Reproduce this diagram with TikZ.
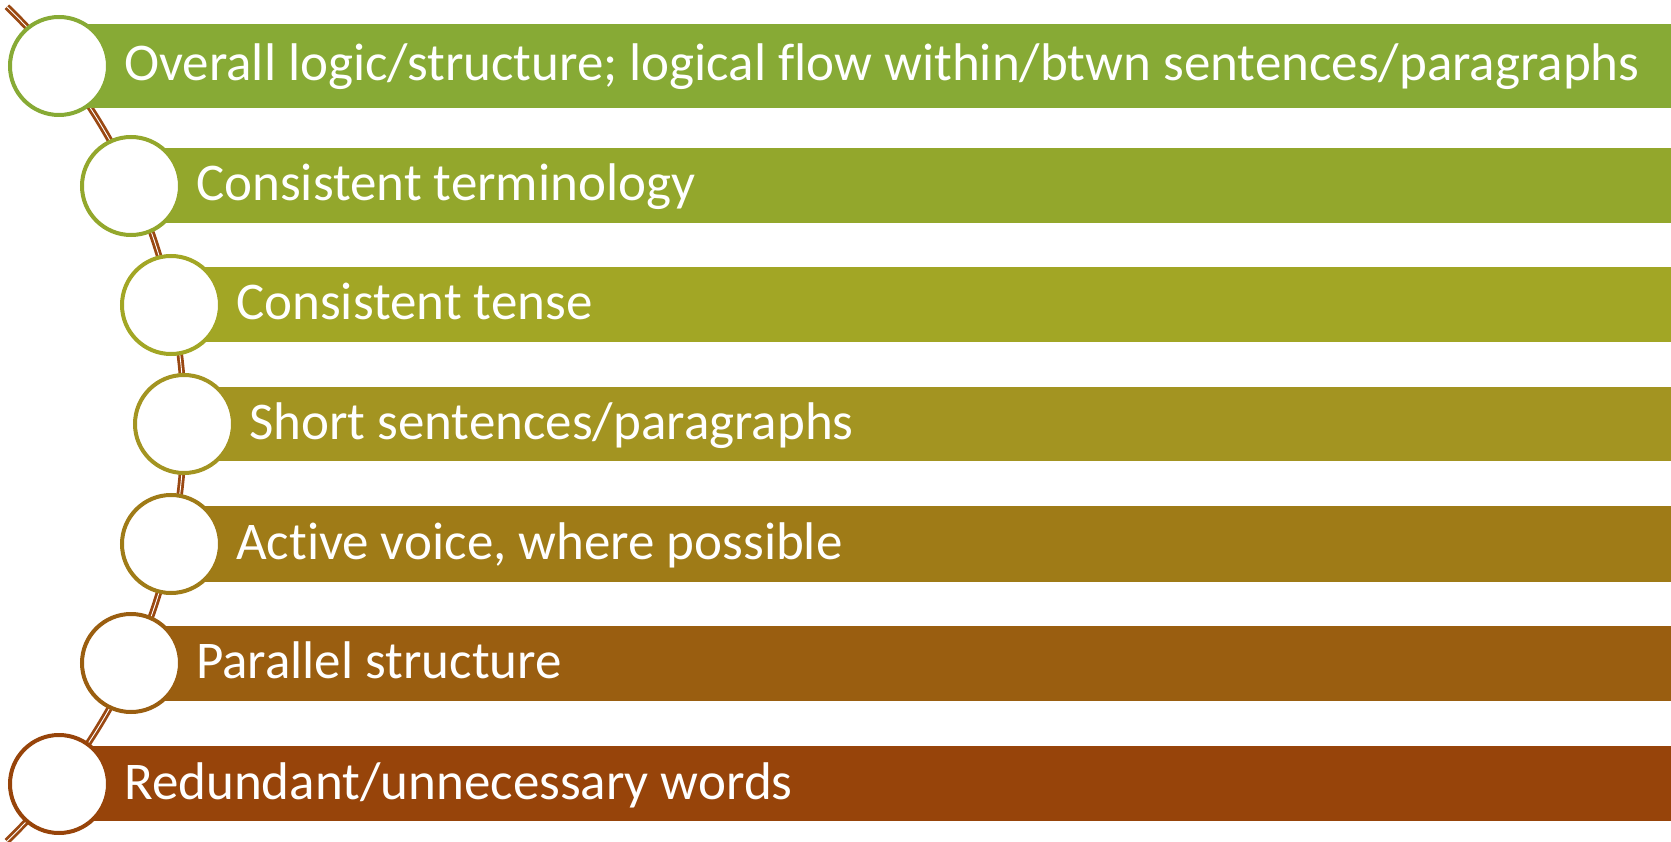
\documentclass[tikz,border=0pt]{standalone}
\usepackage{fontspec}
\setmainfont{Carlito}[Ligatures=NoCommon]

\definecolor{barA}{HTML}{87AA35}
\definecolor{barB}{HTML}{93A72C}
\definecolor{barC}{HTML}{A2A625}
\definecolor{barD}{HTML}{A39421}
\definecolor{barE}{HTML}{9F7B17}
\definecolor{barF}{HTML}{9A5E10}
\definecolor{barG}{HTML}{97440A}
\definecolor{spinebrown}{HTML}{9A4812}

\begin{document}
\begin{tikzpicture}[x=1pt,y=-1pt,
  ring/.style={circle,draw=#1,fill=white,line width=4pt,minimum size=98pt,inner sep=0pt},
  itemtext/.style={anchor=base west,inner sep=0pt,text=white,font=\fontsize{53}{60}\selectfont},
  spine/.style={draw=spinebrown,line width=6.5pt,postaction={draw=white,line width=0.9pt}}]
  \useasboundingbox (0,0) rectangle (1671,842);
  % curved spine behind the rings
  \coordinate (hub) at (-396,424);
  \draw[spine] (hub) ++(-46:580) arc (-46:46:580);
  % bars
  \fill[barA] (59,24) rectangle (1671,108);
  \fill[barB] (131,148) rectangle (1671,223);
  \fill[barC] (171,267) rectangle (1671,342);
  \fill[barD] (184,387) rectangle (1671,461);
  \fill[barE] (171,506) rectangle (1671,582);
  \fill[barF] (131,626) rectangle (1671,701);
  \fill[barG] (59,746) rectangle (1671,821);
  % rings
  \node[ring=barA] (r1) at (59,66) {};
  \node[ring=barB] (r2) at (131,186) {};
  \node[ring=barC] (r3) at (171,305) {};
  \node[ring=barD] (r4) at (184,424) {};
  \node[ring=barE] (r5) at (171,544) {};
  \node[ring=barF] (r6) at (131,663) {};
  \node[ring=barG] (r7) at (59,784) {};
  % texts
  \node[itemtext] (t1) at (124,81) {Overall logic/structure; logical flow within/btwn sentences/paragraphs};
  \node[itemtext] (t2) at (196,201) {Consistent terminology};
  \node[itemtext] (t3) at (236,320) {Consistent tense};
  \node[itemtext] (t4) at (249,439) {Short sentences/paragraphs};
  \node[itemtext] (t5) at (236,559) {Active voice, where possible};
  \node[itemtext] (t6) at (196,678) {Parallel structure};
  \node[itemtext] (t7) at (124,799) {Redundant/unnecessary words};
\end{tikzpicture}
\end{document}
